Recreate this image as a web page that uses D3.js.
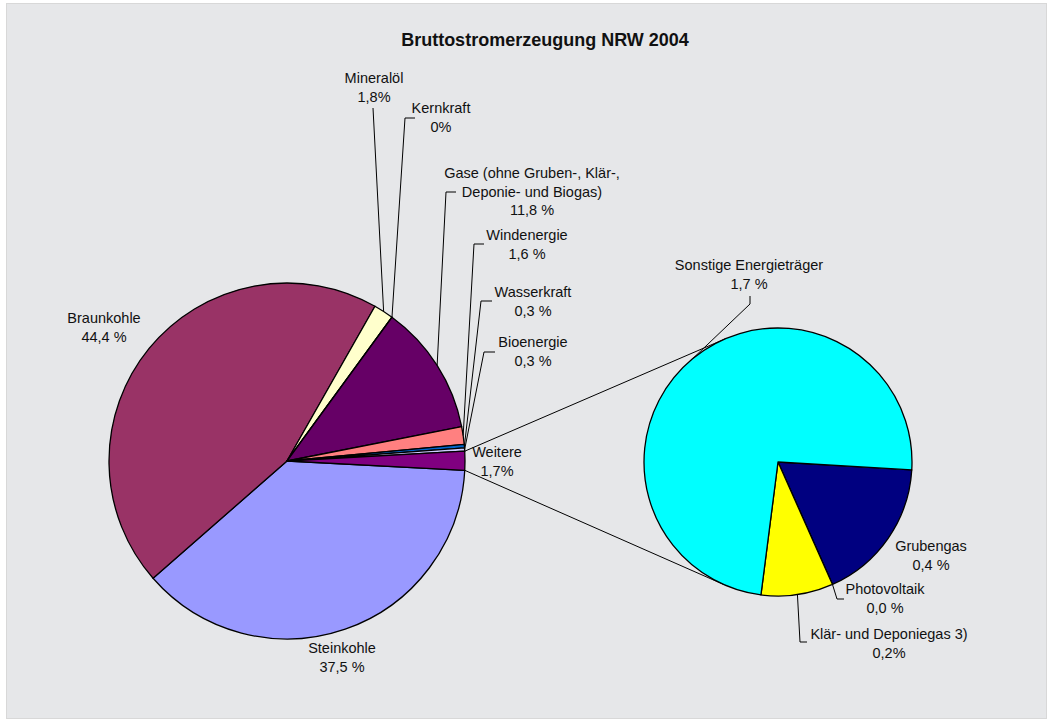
<!DOCTYPE html>
<html lang="de">
  <head>
    <meta charset="utf-8">
    <title>Bruttostromerzeugung NRW 2004</title>
    <script src="https://d3js.org/d3.v7.min.js"></script>
    <style>
      body { margin: 0; background: #fff; }
      text { font-family: "Liberation Sans", Arial, sans-serif; fill: #111; }
    </style>
  </head>
  <body>
    <script>
      // main pie
      const mainCategories = ["Steinkohle", "Braunkohle", "Mineralöl", "Kernkraft",
                              "Gase (ohne Gruben-, Klär-, Deponie- und Biogas)",
                              "Windenergie", "Wasserkraft", "Bioenergie", "Weitere"];
      const mainValues = [37.5, 44.4, 1.8, 0, 11.8, 1.6, 0.3, 0.3, 1.7];
      const mainValueLabels = ["37,5 %", "44,4 %", "1,8%", "0%", "11,8 %", "1,6 %", "0,3 %", "0,3 %", "1,7%"];
      const mainColors = ["#9999ff", "#993366", "#ffffcc", "#ccffff", "#660066",
                          "#ff8080", "#0066cc", "#ccccff", "#800080"];

      // breakdown of "Weitere"
      const subCategories = ["Grubengas", "Photovoltaik", "Klär- und Deponiegas 3)", "Sonstige Energieträger"];
      const subValues = [0.4, 0.0, 0.2, 1.7];
      const subValueLabels = ["0,4 %", "0,0 %", "0,2%", "1,7 %"];
      const subColors = ["#000080", "#ff00ff", "#ffff00", "#00ffff"];

      const width = 1053;
      const height = 722;
      const deg = Math.PI / 180;

      const svg = d3.select("body").append("svg")
                    .attr("width", width)
                    .attr("height", height);

      svg.append("rect")
         .attr("x", 6.5).attr("y", 3.5)
         .attr("width", 1040).attr("height", 715)
         .style("fill", "#e6e7e9")
         .style("stroke", "#d8d8d8");

      svg.append("text")
         .attr("x", 545).attr("y", 46)
         .attr("text-anchor", "middle")
         .style("font-size", "18px")
         .style("font-weight", "bold")
         .text("Bruttostromerzeugung NRW 2004");

      const main = {cx: 287, cy: 461, r: 178};
      const sub = {cx: 778, cy: 462, r: 134};

      const mainPie = d3.pie().sort(null).value(d => d)
                        .startAngle(93 * deg).endAngle(453 * deg);
      const subPie = d3.pie().sort(null).value(d => d)
                       .startAngle(93.4 * deg).endAngle(453.4 * deg);

      const mainArcs = mainPie(mainValues);
      const subArcs = subPie(subValues);

      const point = (c, a, r) => [c.cx + r * Math.sin(a), c.cy - r * Math.cos(a)];

      // label layout: text centre x, first baseline, leader elbow [x, y, endX]
      const mainLayout = [
        {lines: ["Steinkohle"], x: 342, y: 653},
        {lines: ["Braunkohle"], x: 104, y: 323},
        {lines: ["Mineralöl"], x: 374, y: 83, lead: [373, 108, 373]},
        {lines: ["Kernkraft"], x: 441, y: 113, lead: [405, 118, 415]},
        {lines: ["Gase (ohne Gruben-, Klär-,", "Deponie- und Biogas)"], x: 532, y: 178, lead: [446, 192, 456]},
        {lines: ["Windenergie"], x: 527, y: 240, lead: [474, 244, 484]},
        {lines: ["Wasserkraft"], x: 533, y: 297, lead: [481, 301, 492]},
        {lines: ["Bioenergie"], x: 533, y: 347, lead: [484, 352, 495]},
        {lines: ["Weitere"], x: 497, y: 457}
      ];
      const subLayout = [
        {lines: ["Grubengas"], x: 931, y: 551},
        {lines: ["Photovoltaik"], x: 885, y: 594, lead: [837, 599, 844]},
        {lines: ["Klär- und Deponiegas 3)"], x: 889, y: 639, lead: [800, 642, 807]},
        {lines: ["Sonstige Energieträger"], x: 749, y: 270, lead: [750, 304, 750, 296]}
      ];

      const arc = d3.arc();

      function drawPie(c, arcs, colors) {
        svg.append("g")
           .attr("transform", `translate(${c.cx},${c.cy})`)
           .selectAll("path").data(arcs).enter().append("path")
           .attr("d", d => arc({innerRadius: 0, outerRadius: c.r, startAngle: d.startAngle, endAngle: d.endAngle}))
           .style("fill", (d, i) => colors[i])
           .style("stroke", "#000")
           .style("stroke-width", 1.3)
           .style("stroke-linejoin", "round");
      }

      // series lines: from the edges of "Weitere" tangent to the second pie
      const other = mainArcs[mainArcs.length - 1];
      function tangent(p, pickTop) {
        const dx = p[0] - sub.cx, dy = p[1] - sub.cy;
        const d = Math.hypot(dx, dy);
        const base = Math.atan2(dy, dx);
        const alpha = Math.acos(sub.r / d);
        const t1 = [sub.cx + sub.r * Math.cos(base + alpha), sub.cy + sub.r * Math.sin(base + alpha)];
        const t2 = [sub.cx + sub.r * Math.cos(base - alpha), sub.cy + sub.r * Math.sin(base - alpha)];
        return pickTop ? (t1[1] < t2[1] ? t1 : t2) : (t1[1] > t2[1] ? t1 : t2);
      }
      const pTop = point(main, other.startAngle, main.r);
      const pBot = point(main, other.endAngle, main.r);
      const line = d3.line();
      [[pTop, tangent(pTop, true)], [pBot, tangent(pBot, false)]].forEach(seg => {
        svg.append("path").attr("d", line(seg))
           .style("fill", "none").style("stroke", "#000").style("stroke-width", 1);
      });

      drawPie(main, mainArcs, mainColors);
      drawPie(sub, subArcs, subColors);

      function drawLabels(c, arcs, layout, valueLabels) {
        arcs.forEach((d, i) => {
          const L = layout[i];
          if (L.lead) {
            const mid = (d.startAngle + d.endAngle) / 2;
            const pts = [point(c, mid, c.r), [L.lead[0], L.lead[1]]];
            if (L.lead.length > 3) pts.push([L.lead[2], L.lead[3]]);
            else if (L.lead[2] !== L.lead[0]) pts.push([L.lead[2], L.lead[1]]);
            svg.append("path").attr("d", line(pts))
               .style("fill", "none").style("stroke", "#000").style("stroke-width", 1);
          }
          const t = svg.append("text")
                       .attr("x", L.x).attr("y", L.y)
                       .attr("text-anchor", "middle")
                       .style("font-size", "14.5px");
          L.lines.concat([valueLabels[i]]).forEach((s, k) => {
            t.append("tspan").attr("x", L.x).attr("dy", k === 0 ? 0 : 18.5).text(s);
          });
        });
      }

      drawLabels(main, mainArcs, mainLayout, mainValueLabels);
      drawLabels(sub, subArcs, subLayout, subValueLabels);
    </script>
  </body>
</html>
